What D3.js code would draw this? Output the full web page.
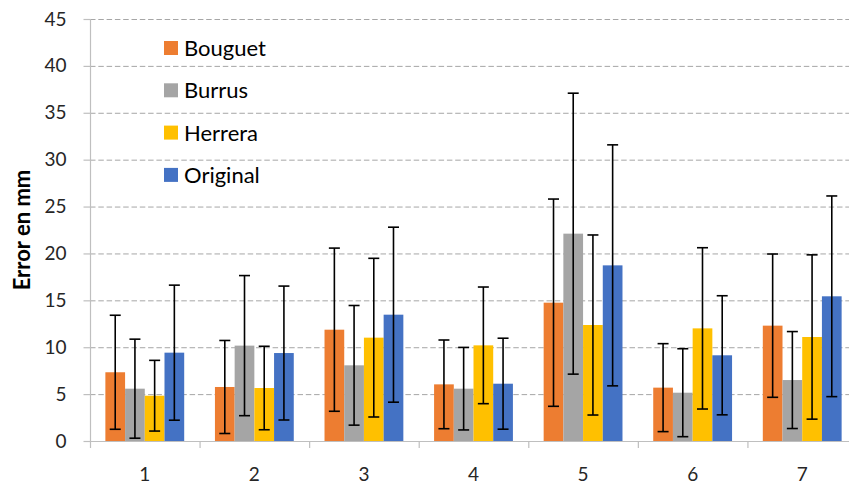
<!DOCTYPE html>
<html>
<head>
<meta charset="utf-8">
<script src="https://cdn.jsdelivr.net/npm/d3@7"></script>
<style>
  html, body { margin: 0; padding: 0; background: #fff; }
  svg { display: block; font-family: Lato, "Open Sans", sans-serif; }
</style>
</head>
<body>
<svg id="chart" width="849" height="485"></svg>
<script>
// Trial numbers along the x axis
const categories = ["1", "2", "3", "4", "5", "6", "7"];
const seriesNames = ["Bouguet", "Burrus", "Herrera", "Original"];
const seriesColors = ["#ED7D31", "#A5A5A5", "#FFC000", "#4472C4"];

// Mean error (mm) per method and trial
const bouguet  = [7.33, 5.76, 11.87, 6.04, 14.75, 5.69, 12.30];
const burrus   = [5.58, 10.17, 8.07, 5.58, 22.11, 5.15, 6.50];
const herrera  = [4.83, 5.65, 11.02, 10.20, 12.37, 12.01, 11.09];
const original = [9.42, 9.38, 13.47, 6.11, 18.73, 9.14, 15.43];

// Standard deviation (mm), drawn as symmetric error bars
const bouguetSd  = [6.08, 4.96, 8.70, 4.73, 11.05, 4.69, 7.64];
const burrusSd   = [5.28, 7.47, 6.38, 4.40, 14.98, 4.69, 5.17];
const herreraSd  = [3.77, 4.45, 8.46, 6.22, 9.60, 8.60, 8.76];
const originalSd = [7.20, 7.14, 9.33, 4.85, 12.85, 6.35, 10.70];

const yTicks = [0, 5, 10, 15, 20, 25, 30, 35, 40, 45];
const yTitle = "Error en mm";

const means = [bouguet, burrus, herrera, original];
const sds = [bouguetSd, burrusSd, herreraSd, originalSd];

const rows = [];
categories.forEach((c, i) => {
  seriesNames.forEach((s, j) => {
    rows.push({ cat: c, series: s, idx: j, value: means[j][i], sd: sds[j][i] });
  });
});

const svg = d3.select("#chart");
const plotLeft = 90, plotRight = 857, plotTop = 19, plotBottom = 441;

const x = d3.scaleBand().domain(categories).range([plotLeft, plotRight]).paddingInner(0).paddingOuter(0);
const inner = d3.scaleBand().domain(seriesNames).range([0, x.bandwidth()]).paddingOuter(0.78).paddingInner(0);
const y = d3.scaleLinear().domain([0, 45]).range([plotBottom, plotTop]);

// Horizontal dashed gridlines
svg.append("g")
  .selectAll("line")
  .data(yTicks.filter(d => d > 0))
  .join("line")
  .attr("x1", plotLeft).attr("x2", plotRight)
  .attr("y1", d => y(d) + 0.5).attr("y2", d => y(d) + 0.5)
  .attr("stroke", "#A6A6A6")
  .attr("stroke-width", 1)
  .attr("stroke-dasharray", "5.5,2.8");

// Y axis
const yAxis = svg.append("g")
  .attr("transform", `translate(${plotLeft + 0.5},0)`)
  .call(d3.axisLeft(y).tickValues(yTicks).tickSize(7).tickPadding(17).tickFormat(d3.format("d")));
yAxis.select(".domain").attr("stroke", "#BFBFBF").attr("d", `M0,${plotTop}V${plotBottom}`).attr("stroke-width", 1.2);
yAxis.selectAll(".tick line").attr("stroke", "#BFBFBF").attr("stroke-width", 1.2);
yAxis.selectAll(".tick text").attr("font-size", 19).attr("fill", "#262626").attr("font-family", "Lato, sans-serif");

// X axis
const xAxis = svg.append("g")
  .attr("transform", `translate(0,${plotBottom + 0.5})`)
  .call(d3.axisBottom(x).tickSize(0).tickPadding(26));
xAxis.select(".domain").attr("stroke", "#BFBFBF").attr("stroke-width", 1.2).attr("d", `M${plotLeft},0H${plotRight}`);
xAxis.selectAll(".tick text").attr("font-size", 19).attr("fill", "#262626").attr("font-family", "Lato, sans-serif");

// Category boundary tick marks
svg.append("g")
  .selectAll("line")
  .data(categories.concat(["end"]))
  .join("line")
  .attr("x1", (d, i) => plotLeft + i * x.step() + 0.5)
  .attr("x2", (d, i) => plotLeft + i * x.step() + 0.5)
  .attr("y1", plotBottom).attr("y2", plotBottom + 7)
  .attr("stroke", "#BFBFBF").attr("stroke-width", 1.2);

// Bars
svg.append("g").selectAll("rect")
  .data(rows)
  .join("rect")
  .attr("x", d => x(d.cat) + inner(d.series))
  .attr("width", inner.bandwidth())
  .attr("y", d => y(d.value))
  .attr("height", d => y(0) - y(d.value))
  .attr("fill", d => seriesColors[d.idx]);

// Error bars
const err = svg.append("g").attr("stroke", "#000").attr("stroke-width", 1.6);
const cx = d => x(d.cat) + inner(d.series) + inner.bandwidth() / 2;
err.selectAll("line.v")
  .data(rows).join("line").attr("class", "v")
  .attr("x1", cx).attr("x2", cx)
  .attr("y1", d => y(d.value + d.sd)).attr("y2", d => y(Math.max(0, d.value - d.sd)));
err.selectAll("line.t")
  .data(rows).join("line").attr("class", "t")
  .attr("x1", d => cx(d) - 5.5).attr("x2", d => cx(d) + 5.5)
  .attr("y1", d => y(d.value + d.sd)).attr("y2", d => y(d.value + d.sd));
err.selectAll("line.b")
  .data(rows).join("line").attr("class", "b")
  .attr("x1", d => cx(d) - 5.5).attr("x2", d => cx(d) + 5.5)
  .attr("y1", d => y(Math.max(0, d.value - d.sd))).attr("y2", d => y(Math.max(0, d.value - d.sd)));

// Y axis title
svg.append("text")
  .attr("transform", `translate(30,${(plotTop + plotBottom) / 2}) rotate(-90)`)
  .attr("text-anchor", "middle")
  .attr("font-size", 22)
  .attr("font-weight", "bold")
  .attr("fill", "#000")
  .text(yTitle);

// Legend
const legend = svg.append("g").attr("transform", "translate(164,41)");
const item = legend.selectAll("g")
  .data(seriesNames)
  .join("g")
  .attr("transform", (d, i) => `translate(0,${i * 42.3})`);
item.append("rect")
  .attr("width", 14).attr("height", 14)
  .attr("fill", (d, i) => seriesColors[i]);
item.append("text")
  .attr("x", 20).attr("y", 15)
  .attr("font-size", 22)
  .attr("fill", "#000")
  .text(d => d);
</script>
</body>
</html>
